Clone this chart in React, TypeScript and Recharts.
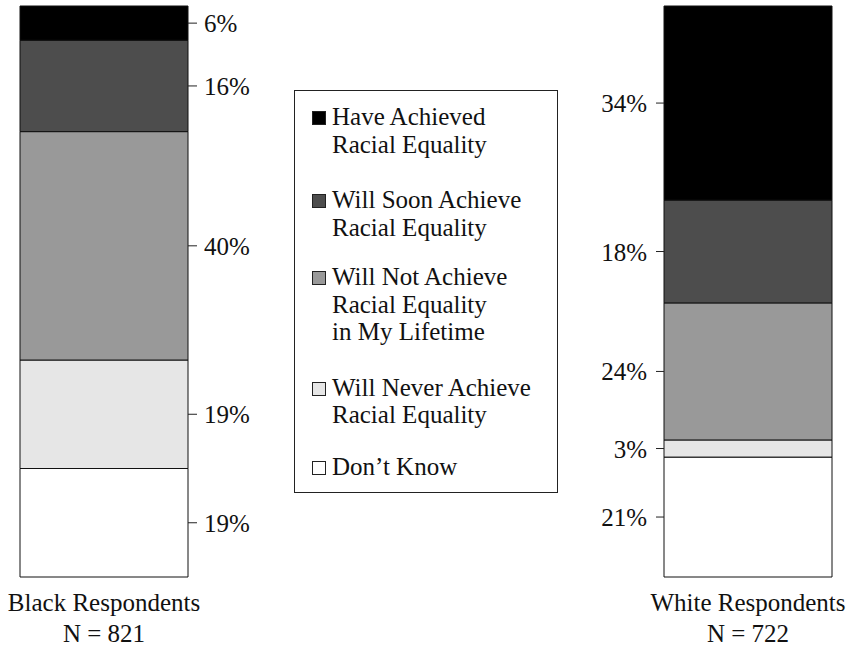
import { Bar, BarChart, LabelList, Legend, XAxis, YAxis } from 'recharts';

const FONT = "'Liberation Serif', 'Times New Roman', serif";

const GROUPS = ['Black Respondents', 'White Respondents'];
const GROUP_N = ['N = 821', 'N = 722'];

// stacked top to bottom in the picture
const RESPONSES = [
  'Have Achieved\nRacial Equality',
  'Will Soon Achieve\nRacial Equality',
  'Will Not Achieve\nRacial Equality\nin My Lifetime',
  'Will Never Achieve\nRacial Equality',
  'Don\u2019t Know'
];
const HAVE_ACHIEVED = [6, 34];
const WILL_SOON = [16, 18];
const WILL_NOT = [40, 24];
const WILL_NEVER = [19, 3];
const DONT_KNOW = [19, 21];

const KEYS = ['have', 'soon', 'not', 'never', 'dk'];
const COLORS = ['#000000', '#4d4d4d', '#999999', '#e6e6e6', '#ffffff'];
const LEGEND_GAPS = [0, 28, 22, 28, 24];

const data = GROUPS.map((group, i) => ({
  pos: i,
  group,
  n: GROUP_N[i],
  have: HAVE_ACHIEVED[i],
  soon: WILL_SOON[i],
  not: WILL_NOT[i],
  never: WILL_NEVER[i],
  dk: DONT_KNOW[i]
}));

function SegmentLabel(props: any) {
  const vb = props.viewBox || {};
  const x = props.x ?? vb.x;
  const y = props.y ?? vb.y;
  const width = props.width ?? vb.width;
  const height = props.height ?? vb.height;
  const { value, index } = props;
  const cy = y + height / 2;
  if (index === 0) {
    const x0 = x + width;
    return (
      <g>
        <line x1={x0} x2={x0 + 9} y1={cy} y2={cy} stroke="#222" strokeWidth={1} />
        <text x={x0 + 16} y={cy} dy={9} fontSize={25} fontFamily={FONT} fill="#111" textAnchor="start">
          {`${value}%`}
        </text>
      </g>
    );
  }
  return (
    <g>
      <line x1={x - 8} x2={x} y1={cy} y2={cy} stroke="#222" strokeWidth={1} />
      <text x={x - 17} y={cy} dy={9} fontSize={25} fontFamily={FONT} fill="#111" textAnchor="end">
        {`${value}%`}
      </text>
    </g>
  );
}

function GroupTick({ x, y, payload }: any) {
  const i = Number(payload.value);
  return (
    <text x={x} y={y} fontSize={25} fontFamily={FONT} fill="#111" textAnchor="middle">
      <tspan x={x} dy={32}>{GROUPS[i]}</tspan>
      <tspan x={x} dy={31}>{GROUP_N[i]}</tspan>
    </text>
  );
}

function LegendBox({ payload }: any) {
  const items = [...(payload || [])].sort(
    (a: any, b: any) => KEYS.indexOf(a.dataKey) - KEYS.indexOf(b.dataKey)
  );
  return (
    <div
      style={{
        border: '1px solid #222',
        width: 262,
        height: 389,
        boxSizing: 'content-box',
        paddingTop: 12,
        fontFamily: FONT,
        fontSize: 25,
        lineHeight: '27.5px',
        color: '#111',
        textAlign: 'left'
      }}
    >
      {items.map((item: any, i: number) => (
        <div key={item.dataKey} style={{ position: 'relative', paddingLeft: 37, marginTop: LEGEND_GAPS[i] }}>
          <span
            style={{
              position: 'absolute',
              left: 17,
              top: 8,
              width: 12,
              height: 12,
              border: '1px solid #222',
              background: item.color
            }}
          />
          {String(item.value).split('\n').map((line) => (
            <div key={line}>{line}</div>
          ))}
        </div>
      ))}
    </div>
  );
}

export default function App() {
  const stackOrder = [...KEYS].reverse();
  return (
    <div style={{ position: 'absolute', left: 0, top: 0, width: 856, height: 646, background: '#fff' }}>
      <BarChart width={856} height={646} data={data} margin={{ top: 6, right: 27.5, bottom: 0, left: 23.5 }}>
        <XAxis
          type="number"
          dataKey="pos"
          domain={[-0.125, 1.125]}
          ticks={[0, 1]}
          tickCount={2}
          axisLine={false}
          tickLine={false}
          tickSize={0}
          height={69}
          interval={0}
          tick={<GroupTick />}
        />
        <YAxis hide domain={[0, 100]} />
        <Legend
          layout="vertical"
          align="center"
          verticalAlign="middle"
          content={<LegendBox />}
          wrapperStyle={{ position: 'absolute', left: 294, top: 90, width: 'auto' }}
        />
        {stackOrder.map((key) => {
          const k = KEYS.indexOf(key);
          return (
            <Bar
              key={key}
              dataKey={key}
              name={RESPONSES[k]}
              stackId="s"
              fill={COLORS[k]}
              stroke="#111"
              strokeWidth={1}
              barSize={168}
              isAnimationActive={false}
            >
              <LabelList dataKey={key} content={<SegmentLabel />} />
            </Bar>
          );
        })}
      </BarChart>
    </div>
  );
}
